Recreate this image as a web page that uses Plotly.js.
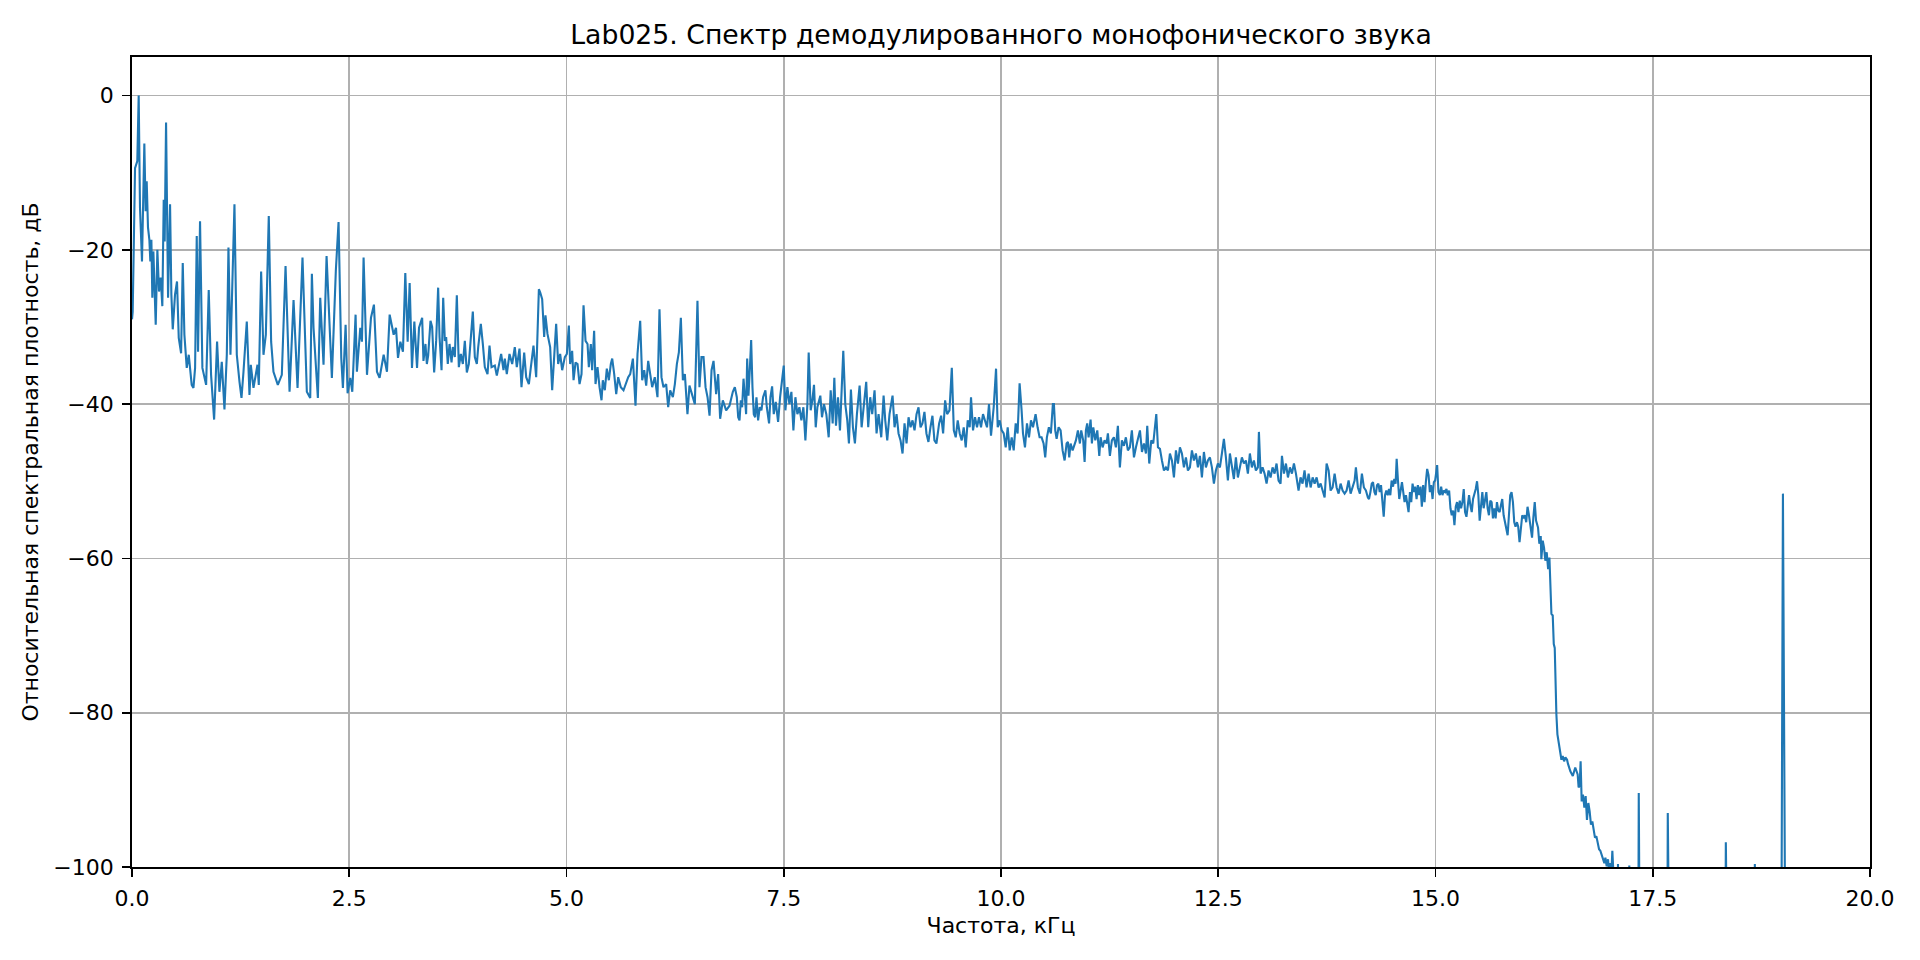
<!DOCTYPE html>
<html>
<head>
<meta charset="utf-8">
<script src="https://cdn.plot.ly/plotly-3.0.1.min.js"></script>
<style>html,body{margin:0;padding:0;background:#fff}#chart{width:1920px;height:960px}</style>
</head>
<body>
<div id="chart"></div>
<script>
// Frequency (kHz) and relative level (dB), band by band
const freqBand1 = [0.000,0.008,0.035,0.061,0.077,0.092,0.115,0.142,0.157,0.169,0.184,0.200,0.211,0.223,0.234,0.246,0.273,0.292,0.311,0.330,0.349,0.365,0.376,0.392,0.415,0.438,0.453,0.469,0.495,0.518,0.538,0.565,0.584,0.603,0.630,0.653,0.687,0.707,0.726,0.745,0.760,0.783,0.810,0.853,0.883,0.910,0.945,0.979,1.006,1.033,1.064,1.091,1.110,1.133,1.179,1.206,1.237,1.260,1.283,1.321,1.352,1.367,1.398,1.444,1.459,1.486,1.513,1.540,1.574,1.601,1.628,1.678,1.724,1.767,1.813,1.859,1.905,1.962,2.012,2.051,2.070,2.089,2.139,2.166,2.204,2.239,2.300,2.346,2.377,2.408,2.427,2.458,2.481,2.512,2.535,2.573,2.588,2.627,2.646,2.665,2.704,2.750,2.784,2.819,2.849,2.896,2.934,2.965,3.011,3.038,3.061,3.088,3.118,3.134,3.145,3.172,3.195,3.222,3.249,3.280,3.303];
const levelBand1 = [-29.0,-28.0,-9.4,-8.5,0.0,-14.5,-21.5,-6.2,-15.0,-11.1,-17.1,-18.7,-21.5,-18.7,-26.2,-20.2,-29.7,-20.0,-25.4,-23.6,-27.3,-13.5,-18.9,-3.5,-26.2,-14.1,-25.8,-30.3,-25.8,-24.1,-31.4,-33.4,-21.7,-31.0,-35.3,-33.6,-37.5,-37.9,-35.3,-18.2,-33.2,-16.3,-35.3,-37.5,-25.2,-36.2,-42.0,-31.9,-38.4,-34.5,-40.7,-33.6,-19.7,-33.6,-14.1,-33.6,-37.1,-39.2,-35.8,-29.3,-38.8,-34.9,-37.9,-34.9,-37.5,-22.8,-33.6,-31.0,-15.6,-31.9,-35.8,-37.5,-36.2,-22.1,-38.4,-26.5,-37.9,-21.0,-38.4,-39.2,-23.1,-30.1,-39.2,-26.2,-34.9,-20.8,-36.6,-22.6,-16.4,-34.0,-37.9,-29.7,-38.6,-36.6,-38.4,-28.4,-35.8,-30.1,-31.9,-21.0,-36.2,-28.8,-27.1,-35.8,-36.6,-33.6,-35.8,-28.4,-31.0,-30.1,-34.0,-31.9,-33.2,-28.4,-23.0,-31.9,-24.3,-35.3,-29.3,-35.3,-30.1];

const freqBand2 = [3.339,3.354,3.377,3.393,3.408,3.435,3.454,3.477,3.500,3.523,3.539,3.562,3.581,3.600,3.615,3.634,3.654,3.677,3.692,3.715,3.738,3.761,3.784,3.807,3.830,3.853,3.876,3.922,3.945,3.968,3.984,4.014,4.037,4.060,4.091,4.114,4.137,4.175,4.198,4.221,4.248,4.275,4.290,4.313,4.344,4.375,4.405,4.428,4.459,4.482,4.513,4.536,4.567,4.590,4.620,4.651,4.682,4.697,4.720,4.743,4.758,4.781,4.812,4.835,4.866,4.881,4.904,4.927,4.950,4.981,5.004,5.027,5.042,5.065,5.081,5.104,5.127,5.150,5.173,5.196,5.219,5.242,5.257,5.280,5.295,5.318,5.334,5.357,5.380,5.403,5.418,5.441,5.464,5.487,5.510,5.526,5.549,5.572,5.595,5.625,5.656,5.679,5.710,5.733,5.764,5.794,5.817,5.848,5.871,5.894,5.917,5.940,5.963,5.986,6.016,6.047,6.070,6.093,6.116,6.147,6.170,6.193,6.224,6.247,6.270,6.293,6.316,6.339,6.362,6.392,6.415,6.446,6.477,6.507,6.530,6.553,6.577,6.600,6.623,6.646,6.669,6.692,6.722,6.745,6.768,6.799,6.837,6.876,6.914,6.937];
const levelBand2 = [-28.8,-34.4,-32.2,-34.8,-33.7,-29.2,-30.0,-35.9,-31.8,-24.9,-31.3,-35.6,-26.2,-31.8,-31.3,-34.8,-32.2,-34.6,-32.6,-33.9,-25.9,-35.2,-33.5,-34.8,-31.8,-35.9,-34.8,-28.0,-33.9,-34.8,-32.6,-29.6,-32.2,-35.2,-36.1,-32.4,-35.2,-35.0,-36.3,-35.2,-33.5,-35.6,-34.1,-36.1,-33.5,-34.8,-32.6,-35.2,-32.8,-37.8,-33.3,-36.5,-37.4,-35.2,-32.4,-36.5,-25.1,-25.5,-26.4,-31.3,-28.5,-30.9,-32.6,-38.2,-31.8,-29.6,-34.8,-33.5,-35.6,-33.9,-33.5,-29.8,-34.8,-33.1,-36.9,-34.6,-34.8,-37.4,-36.1,-27.2,-31.8,-32.2,-35.2,-32.2,-35.6,-30.5,-37.4,-35.2,-37.8,-39.5,-36.9,-38.2,-35.4,-36.9,-34.8,-34.1,-36.1,-38.7,-36.5,-37.8,-38.2,-37.4,-36.5,-36.1,-34.1,-40.2,-33.5,-29.2,-36.9,-35.6,-37.6,-34.4,-36.1,-37.8,-36.5,-39.1,-27.7,-36.5,-37.8,-37.4,-40.4,-38.2,-39.1,-37.4,-34.8,-33.3,-28.8,-36.9,-36.1,-41.3,-37.6,-38.7,-40.0,-26.6,-37.8,-33.9,-33.9,-37.8,-39.1,-41.5,-35.6,-34.4,-38.7,-36.1,-41.9,-39.5,-40.8,-40.2,-38.4,-37.8];

const freqBand3 = [6.960,6.976,6.991,7.006,7.021,7.037,7.052,7.067,7.079,7.094,7.109,7.125,7.140,7.155,7.171,7.186,7.205,7.224,7.243,7.262,7.289,7.305,7.331,7.347,7.366,7.385,7.408,7.435,7.458,7.477,7.500,7.519,7.542,7.565,7.588,7.611,7.634,7.657,7.680,7.703,7.726,7.749,7.772,7.787,7.810,7.829,7.848,7.868,7.887,7.921,7.940,7.963,7.990,8.017,8.040,8.063,8.082,8.101,8.124,8.147,8.162,8.185,8.208,8.231,8.250,8.273,8.296,8.319,8.342,8.373,8.396,8.423,8.449,8.472,8.495,8.518,8.545,8.568,8.591,8.622,8.649,8.668,8.691,8.717,8.752,8.775,8.798,8.821,8.844,8.867,8.890,8.913,8.936,8.959,8.982,9.005,9.028,9.051,9.074,9.096,9.119,9.142,9.165,9.188,9.211,9.234,9.257,9.288,9.311,9.334,9.357,9.380,9.407,9.434,9.457,9.479,9.502,9.525,9.548,9.571,9.594,9.617,9.640,9.655,9.678,9.701,9.724,9.747,9.770,9.793,9.816,9.839,9.862,9.885,9.916,9.943,9.962,9.985,10.008,10.031,10.054,10.077,10.100,10.123,10.146,10.169,10.191,10.214,10.237,10.253,10.276,10.299,10.322,10.345,10.368,10.398,10.421,10.444,10.467,10.490,10.509,10.528,10.551,10.574,10.597];
const levelBand3 = [-39.1,-41.7,-42.1,-39.5,-40.4,-36.7,-39.1,-41.3,-34.1,-38.9,-35.6,-31.7,-37.8,-41.3,-41.7,-39.1,-42.1,-40.4,-40.8,-39.1,-38.2,-40.4,-42.5,-39.1,-37.7,-41.3,-39.7,-42.3,-39.1,-37.1,-35.0,-40.8,-37.8,-40.0,-38.4,-43.4,-39.1,-41.3,-40.4,-42.1,-40.4,-44.7,-40.0,-33.3,-40.8,-39.5,-37.5,-43.0,-40.4,-38.9,-41.7,-40.0,-41.3,-44.3,-38.2,-42.5,-36.6,-42.8,-39.1,-43.4,-39.5,-33.1,-40.0,-42.1,-45.1,-38.1,-43.0,-45.1,-41.3,-37.6,-43.0,-40.4,-37.1,-43.0,-39.1,-41.3,-38.2,-43.8,-41.3,-44.3,-38.9,-42.1,-44.7,-41.3,-38.9,-43.0,-41.3,-43.8,-44.7,-46.4,-42.5,-45.1,-41.7,-43.0,-42.1,-43.4,-41.3,-40.4,-43.0,-42.5,-41.0,-43.8,-44.9,-43.0,-41.5,-44.7,-45.1,-42.5,-41.5,-43.8,-39.5,-41.3,-40.8,-35.3,-43.4,-44.3,-42.1,-43.8,-44.7,-43.0,-45.6,-42.1,-43.0,-39.1,-43.4,-41.7,-43.0,-41.7,-43.0,-41.3,-42.1,-43.0,-40.0,-44.1,-40.4,-35.4,-43.0,-42.1,-43.4,-43.8,-45.6,-43.0,-46.0,-44.3,-46.0,-42.5,-43.8,-37.3,-40.8,-43.8,-45.6,-42.5,-44.3,-42.1,-43.0,-41.3,-43.0,-44.3,-44.3,-45.1,-46.9,-44.3,-43.0,-43.8,-40.0];

const freqBand4 = [10.609,10.624,10.640,10.663,10.686,10.709,10.732,10.755,10.770,10.785,10.801,10.824,10.847,10.862,10.885,10.908,10.923,10.946,10.962,10.977,10.992,11.008,11.031,11.046,11.062,11.085,11.108,11.131,11.146,11.169,11.192,11.215,11.230,11.253,11.276,11.299,11.322,11.345,11.368,11.391,11.414,11.437,11.460,11.483,11.506,11.530,11.553,11.576,11.599,11.622,11.645,11.668,11.683,11.706,11.729,11.752,11.767,11.787,11.806,11.829,11.852,11.875,11.898,11.921,11.944,11.967,11.990,12.013,12.036,12.059,12.082,12.105,12.128,12.151,12.174,12.197,12.220,12.243,12.266,12.289,12.312,12.335,12.358,12.381,12.404,12.427,12.450,12.473,12.496,12.519,12.542,12.565,12.588,12.611,12.634,12.657,12.680,12.703,12.726,12.749,12.772,12.795,12.818,12.841,12.864,12.887,12.910,12.933,12.956,12.968,12.987,13.010,13.033,13.056,13.079,13.102,13.125,13.148,13.171,13.194,13.217,13.233,13.256,13.279,13.302,13.325,13.348,13.371,13.394,13.424,13.447,13.470,13.493,13.516,13.540,13.563,13.586,13.609,13.632,13.655,13.678,13.701,13.724,13.747,13.770,13.793,13.816,13.839,13.862,13.885,13.908,13.931,13.954,13.977,14.000,14.023,14.046,14.069,14.084,14.107,14.130,14.153,14.176,14.199,14.222];
const levelBand4 = [-40.0,-43.4,-44.5,-43.0,-43.4,-46.0,-47.3,-45.1,-44.9,-46.9,-45.1,-46.0,-45.1,-44.7,-43.4,-45.1,-43.4,-44.7,-47.5,-43.4,-42.5,-44.3,-42.0,-45.1,-43.0,-44.7,-43.4,-46.7,-44.3,-45.6,-44.7,-45.1,-43.8,-46.7,-44.7,-44.3,-45.6,-42.8,-48.2,-44.7,-45.4,-44.3,-46.0,-45.6,-43.4,-46.9,-45.6,-44.3,-43.4,-46.2,-45.1,-46.4,-42.8,-47.7,-44.7,-45.1,-43.0,-41.3,-45.6,-45.8,-47.3,-48.6,-48.2,-48.6,-46.4,-47.3,-49.5,-46.0,-47.7,-45.6,-46.4,-48.2,-46.9,-48.6,-48.2,-46.0,-47.3,-46.4,-48.2,-46.7,-49.5,-46.2,-48.2,-47.3,-46.9,-48.2,-50.3,-48.6,-47.7,-48.2,-46.4,-44.5,-46.9,-49.9,-46.4,-48.2,-49.7,-46.9,-49.5,-48.2,-46.9,-47.7,-47.3,-49.0,-46.4,-48.2,-47.3,-48.6,-48.2,-43.6,-49.0,-48.2,-49.0,-50.3,-48.6,-49.5,-48.2,-49.0,-47.7,-49.9,-50.3,-46.7,-49.0,-47.7,-49.5,-48.2,-49.0,-47.7,-49.0,-51.2,-49.5,-50.3,-48.6,-50.8,-49.0,-50.8,-49.5,-50.3,-49.5,-50.8,-50.3,-51.2,-52.1,-47.7,-48.6,-51.2,-50.8,-49.0,-50.8,-51.6,-50.3,-51.2,-51.6,-51.2,-49.9,-51.6,-50.8,-49.9,-48.2,-50.8,-51.6,-49.0,-50.8,-51.2,-52.1];

const freqBand5 = [14.235,14.251,14.266,14.281,14.297,14.312,14.327,14.343,14.358,14.373,14.388,14.404,14.419,14.434,14.450,14.465,14.480,14.495,14.511,14.526,14.541,14.553,14.568,14.583,14.599,14.614,14.629,14.644,14.660,14.675,14.690,14.706,14.721,14.736,14.751,14.767,14.782,14.797,14.813,14.828,14.843,14.858,14.874,14.889,14.904,14.920,14.935,14.950,14.966,14.981,14.996,15.019,15.034,15.050,15.065,15.080,15.096,15.111,15.126,15.141,15.157,15.172,15.187,15.203,15.218,15.233,15.248,15.264,15.279,15.294,15.310,15.325,15.340,15.356,15.371,15.386,15.401,15.417,15.432,15.447,15.463,15.478,15.493,15.508,15.524,15.539,15.554,15.570,15.585,15.600,15.615,15.631,15.646,15.661,15.677,15.692,15.707,15.723,15.738,15.753,15.768,15.784,15.799,15.814,15.830,15.845,15.860,15.875,15.891,15.906,15.921,15.937,15.952,15.967,15.982,15.998,16.013,16.028,16.044,16.059];
const levelBand5 = [-52.3,-51.4,-50.3,-50.1,-51.4,-51.8,-50.5,-50.3,-51.4,-50.5,-52.3,-54.6,-51.8,-51.2,-51.8,-51.0,-51.8,-49.9,-50.7,-49.7,-50.3,-47.1,-49.9,-52.3,-51.2,-50.1,-51.4,-52.7,-51.8,-52.9,-54.0,-51.4,-52.7,-50.3,-51.4,-50.7,-52.3,-50.5,-51.8,-50.7,-53.3,-50.5,-52.7,-50.1,-48.4,-49.2,-51.4,-50.5,-52.3,-50.1,-49.9,-47.9,-51.4,-51.8,-50.7,-51.8,-51.2,-51.4,-51.0,-51.8,-51.2,-53.5,-54.4,-53.8,-55.7,-53.3,-52.7,-54.0,-52.5,-53.5,-52.7,-51.0,-54.0,-54.6,-53.5,-51.8,-53.1,-54.0,-52.3,-51.8,-51.0,-50.0,-51.8,-55.1,-53.1,-51.4,-53.5,-52.3,-51.4,-53.5,-54.4,-52.5,-52.7,-54.8,-53.5,-54.8,-52.7,-53.8,-54.0,-53.1,-52.3,-54.4,-55.3,-55.9,-57.0,-54.4,-51.8,-51.4,-52.7,-55.3,-55.9,-55.3,-55.9,-57.9,-56.1,-54.4,-54.8,-54.4,-55.3,-53.3];

// roll-off above 16 kHz
const freqBand6 = [16.073,16.092,16.111,16.126,16.142,16.157,16.180,16.195,16.211,16.218,16.234,16.249,16.264,16.280,16.296,16.311,16.318,16.326,16.334,16.349,16.361,16.372,16.380,16.391,16.403,16.418,16.434,16.449,16.464,16.480,16.495,16.514,16.524,16.552,16.580,16.608,16.636,16.647,16.659,16.670,16.682,16.697,16.713,16.728,16.743,16.759,16.774,16.789,16.805,16.820,16.835,16.851,16.866,16.882,16.897,16.912,16.928,16.943,16.955,16.970,16.985,16.997,17.012,17.024,17.035,17.051];
const levelBand6 = [-54.2,-55.5,-57.3,-54.7,-52.7,-55.1,-56.0,-58.1,-57.1,-60.1,-57.7,-58.6,-60.3,-59.2,-61.4,-59.9,-62.9,-65.1,-67.2,-67.4,-71.1,-71.6,-75.9,-80.2,-82.8,-84.1,-85.4,-86.1,-85.6,-86.3,-85.8,-86.1,-86.6,-87.6,-88.2,-87.1,-88.0,-89.7,-89.3,-86.3,-91.5,-90.6,-92.3,-90.8,-93.9,-91.7,-92.8,-94.5,-94.1,-95.4,-96.2,-96.0,-97.1,-97.7,-97.9,-98.4,-99.0,-99.5,-98.8,-99.9,-99.0,-100.6,-99.5,-100.8,-97.9,-101.5];

// floor with isolated tones, incl. the 19 kHz pilot
const freqBand7 = [17.070,17.095,17.100,17.105,17.200,17.225,17.230,17.235,17.330,17.335,17.339,17.343,17.350,17.660,17.669,17.673,17.677,17.690,18.330,18.337,18.341,18.345,18.360,18.660,18.671,18.675,18.679,18.700,18.978,18.998,19.028,19.100,19.600,20.000];
const levelBand7 = [-106,-104,-99.6,-104,-108,-104,-99.8,-104,-110,-106,-90.4,-106,-112,-112,-107,-93.0,-107,-113,-113,-108,-96.8,-108,-114,-114,-107,-99.6,-107,-115,-118,-51.6,-118,-122,-120,-121];

const freqKHz = [].concat(freqBand1, freqBand2, freqBand3, freqBand4, freqBand5, freqBand6, freqBand7);
const levelDb = [].concat(levelBand1, levelBand2, levelBand3, levelBand4, levelBand5, levelBand6, levelBand7);

const xTickVals = [0, 2.5, 5, 7.5, 10, 12.5, 15, 17.5, 20];
const xTickText = ['0.0', '2.5', '5.0', '7.5', '10.0', '12.5', '15.0', '17.5', '20.0'];
const yTickVals = [-100, -80, -60, -40, -20, 0];
const yTickText = ['\u2212100', '\u221280', '\u221260', '\u221240', '\u221220', '0'];

const FONT = 'DejaVu Sans, Liberation Sans, sans-serif';

const trace = {
  x: freqKHz,
  y: levelDb,
  type: 'scatter',
  mode: 'lines',
  line: { color: '#1f77b4', width: 2.1 },
  hoverinfo: 'x+y'
};

const axisCommon = {
  showgrid: true,
  gridcolor: '#b0b0b0',
  gridwidth: 1.8,
  zeroline: false,
  showline: true,
  linecolor: '#000000',
  linewidth: 1.8,
  mirror: true,
  ticks: 'outside',
  ticklen: 8,
  tickwidth: 1.8,
  tickcolor: '#000000',
  tickfont: { family: FONT, size: 22, color: '#000000' },
  automargin: false
};

const layout = {
  width: 1920,
  height: 960,
  margin: { l: 132, r: 50, t: 57, b: 93, pad: 0 },
  paper_bgcolor: '#ffffff',
  plot_bgcolor: '#ffffff',
  showlegend: false,
  font: { family: FONT, color: '#000000' },
  title: {
    text: 'Lab025. Спектр демодулированного монофонического звука',
    font: { family: FONT, size: 26.7, color: '#000000' },
    xref: 'paper', x: 0.5, xanchor: 'center',
    yref: 'container', y: 1 - 34.5 / 960, yanchor: 'middle'
  },
  xaxis: Object.assign({}, axisCommon, {
    range: [0, 20],
    tickmode: 'array',
    tickvals: xTickVals,
    ticktext: xTickText,
    ticklabelstandoff: 3,
    title: { text: 'Частота, кГц', font: { family: FONT, size: 22, color: '#000000' }, standoff: 7 }
  }),
  yaxis: Object.assign({}, axisCommon, {
    range: [-100, 5],
    tickmode: 'array',
    tickvals: yTickVals,
    ticktext: yTickText,
    ticklabelstandoff: 4,
    title: { text: 'Относительная спектральная плотность, дБ', font: { family: FONT, size: 22, color: '#000000' }, standoff: 9 }
  })
};

Plotly.newPlot('chart', [trace], layout, { displayModeBar: false, staticPlot: true });
</script>
</body>
</html>
